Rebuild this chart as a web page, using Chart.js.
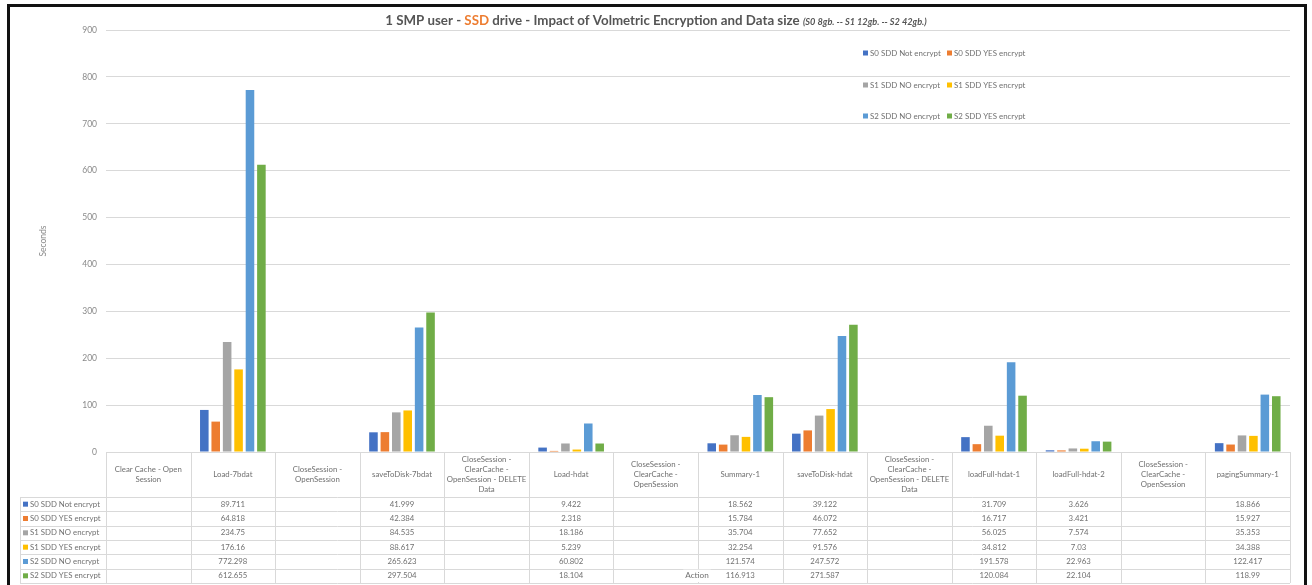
<!DOCTYPE html>
<html>
<head>
<meta charset="utf-8">
<script src="https://cdn.jsdelivr.net/npm/chart.js@4/dist/chart.umd.min.js"></script>
<style>
  html, body { margin: 0; padding: 0; background: #fff; }
  #wrap { width: 1312px; height: 585px; position: relative; }
</style>
</head>
<body>
<div id="wrap"><canvas id="c" width="1312" height="585"></canvas></div>
<script>
// Benchmark actions (multi-line labels as shown in the table header)
const categories = [
  ['Clear Cache - Open', 'Session'],
  ['Load-7bdat'],
  ['CloseSession -', 'OpenSession'],
  ['saveToDisk-7bdat'],
  ['CloseSession -', 'ClearCache -', 'OpenSession - DELETE', 'Data'],
  ['Load-hdat'],
  ['CloseSession -', 'ClearCache -', 'OpenSession'],
  ['Summary-1'],
  ['saveToDisk-hdat'],
  ['CloseSession -', 'ClearCache -', 'OpenSession - DELETE', 'Data'],
  ['loadFull-hdat-1'],
  ['loadFull-hdat-2'],
  ['CloseSession -', 'ClearCache -', 'OpenSession'],
  ['pagingSummary-1']
];

const seriesNames = [
  'S0 SDD Not encrypt', 'S0 SDD YES encrypt',
  'S1 SDD NO encrypt', 'S1 SDD YES encrypt',
  'S2 SDD NO encrypt', 'S2 SDD YES encrypt'
];

// Seconds per action
const s0NoEncrypt  = [null, 89.711, null, 41.999, null, 9.422, null, 18.562, 39.122, null, 31.709, 3.626, null, 18.866];
const s0YesEncrypt = [null, 64.818, null, 42.384, null, 2.318, null, 15.784, 46.072, null, 16.717, 3.421, null, 15.927];
const s1NoEncrypt  = [null, 234.75, null, 84.535, null, 18.186, null, 35.704, 77.652, null, 56.025, 7.574, null, 35.353];
const s1YesEncrypt = [null, 176.16, null, 88.617, null, 5.239, null, 32.254, 91.576, null, 34.812, 7.03, null, 34.388];
const s2NoEncrypt  = [null, 772.298, null, 265.623, null, 60.802, null, 121.574, 247.572, null, 191.578, 22.963, null, 122.417];
const s2YesEncrypt = [null, 612.655, null, 297.504, null, 18.104, null, 116.913, 271.587, null, 120.084, 22.104, null, 118.99];

const yTicks = [0, 100, 200, 300, 400, 500, 600, 700, 800, 900];

const seriesData = [s0NoEncrypt, s0YesEncrypt, s1NoEncrypt, s1YesEncrypt, s2NoEncrypt, s2YesEncrypt];
const seriesColors = ['#4472C4', '#ED7D31', '#A5A5A5', '#FFC000', '#5B9BD5', '#70AD47'];

const FONT = 'Lato, "Open Sans", sans-serif';
const TEXT = '#707070';
const LINE = '#d9d9d9';

// White page, outer black frame, title, legend and data table
const decor = {
  id: 'decor',
  beforeDraw(chart) {
    const ctx = chart.ctx;
    ctx.save();
    ctx.fillStyle = '#fff';
    ctx.fillRect(0, 0, chart.width, chart.height);
    ctx.restore();
  },
  afterDraw(chart) {
    const ctx = chart.ctx;
    const x = chart.scales.x;
    const area = chart.chartArea;
    const n = categories.length;
    const colW = (area.right - area.left) / n;
    const tableTop = area.bottom;
    const headerBottom = tableTop + 45;
    const rowH = 14.33;
    const labelLeft = 20;
    const tableBottom = headerBottom + rowH * seriesNames.length;

    ctx.save();
    // table grid
    ctx.strokeStyle = LINE;
    ctx.lineWidth = 1;
    ctx.beginPath();
    ctx.moveTo(area.left, tableTop + 0.5); ctx.lineTo(area.right, tableTop + 0.5);
    for (let r = 0; r <= seriesNames.length; r++) {
      const yy = Math.round(headerBottom + r * rowH) + 0.5;
      ctx.moveTo(labelLeft, yy); ctx.lineTo(area.right, yy);
    }
    for (let i = 0; i <= n; i++) {
      const xx = Math.round(area.left + i * colW) + 0.5;
      ctx.moveTo(xx, tableTop); ctx.lineTo(xx, tableBottom);
    }
    ctx.moveTo(labelLeft + 0.5, headerBottom); ctx.lineTo(labelLeft + 0.5, tableBottom);
    ctx.stroke();

    // header labels
    ctx.fillStyle = TEXT;
    ctx.font = '7.8px ' + FONT;
    ctx.textAlign = 'center';
    ctx.textBaseline = 'middle';
    const lh = 10.3;
    categories.forEach((lines, i) => {
      const cx = x.getPixelForValue(i);
      const cy = (tableTop + headerBottom) / 2;
      const y0 = cy - (lines.length - 1) * lh / 2;
      lines.forEach((t, k) => ctx.fillText(t, cx, y0 + k * lh));
    });

    // data rows
    seriesNames.forEach((name, r) => {
      const cy = headerBottom + (r + 0.5) * rowH;
      ctx.fillStyle = seriesColors[r];
      ctx.fillRect(23, cy - 2.5, 5, 5);
      ctx.fillStyle = TEXT;
      ctx.textAlign = 'left';
      ctx.fillText(name, 30, cy);
      ctx.textAlign = 'center';
      seriesData[r].forEach((v, i) => {
        if (v !== null) ctx.fillText(String(v), x.getPixelForValue(i), cy);
      });
    });

    // axis title for the category axis
    ctx.font = '8.2px ' + FONT;
    const aw = ctx.measureText('Action').width;
    ctx.fillStyle = '#fff';
    ctx.fillRect(697 - aw / 2 - 2, headerBottom + 5 * rowH + 1, aw + 4, rowH - 2);
    ctx.fillStyle = TEXT;
    ctx.fillText('Action', 697, headerBottom + 5.5 * rowH);

    // legend (two columns, three rows)
    ctx.font = '7.9px ' + FONT;
    ctx.textAlign = 'left';
    const legRows = [53, 85, 116];
    const legCols = [863, 947];
    chart.data.datasets.forEach((ds, i) => {
      const lx = legCols[i % 2];
      const ly = legRows[Math.floor(i / 2)];
      ctx.fillStyle = ds.backgroundColor;
      ctx.fillRect(lx, ly - 2.5, 5, 5);
      ctx.fillStyle = TEXT;
      ctx.fillText(ds.label, lx + 7, ly);
    });

    // title with highlighted word and italic note
    const parts = [
      { t: '1 SMP user - ', f: 'bold 13.3px ' + FONT, c: '#555555' },
      { t: 'SSD', f: 'bold 13.3px ' + FONT, c: '#ED7D31' },
      { t: ' drive - Impact of Volmetric Encryption and Data size ', f: 'bold 13.3px ' + FONT, c: '#555555' },
      { t: '(S0 8gb. -- S1 12gb. -- S2 42gb.)', f: 'italic bold 9.2px ' + FONT, c: '#555555' }
    ];
    let total = 0;
    parts.forEach(p => { ctx.font = p.f; p.w = ctx.measureText(p.t).width; total += p.w; });
    let tx = 656 - total / 2;
    ctx.textBaseline = 'alphabetic';
    parts.forEach(p => {
      ctx.font = p.f; ctx.fillStyle = p.c;
      ctx.fillText(p.t, tx, 25);
      tx += p.w;
    });

    // outer frame
    ctx.strokeStyle = '#111';
    ctx.lineWidth = 3;
    ctx.strokeRect(8.5, 5.5, 1297, 600);
    ctx.restore();
  }
};

new Chart(document.getElementById('c'), {
  type: 'bar',
  data: {
    labels: categories,
    datasets: seriesNames.map((name, i) => ({
      label: name,
      data: seriesData[i],
      backgroundColor: seriesColors[i],
      borderWidth: 0,
      categoryPercentage: 0.81,
      barPercentage: 0.75
    }))
  },
  options: {
    responsive: false,
    animation: false,
    devicePixelRatio: 1,
    layout: { padding: { left: 8, right: 22, top: 30, bottom: 133 } },
    plugins: {
      legend: { display: false },
      title: { display: false },
      tooltip: { enabled: false }
    },
    scales: {
      x: { display: false },
      y: {
        min: 0,
        max: 900,
        afterFit(scale) { scale.width = 98; },
        afterBuildTicks(scale) { scale.ticks = yTicks.map(v => ({ value: v })); },
        grid: { color: LINE, drawTicks: false },
        border: { display: false },
        ticks: { color: '#8a8a8a', font: { family: FONT, size: 8.5 }, padding: 9 },
        title: {
          display: true,
          text: 'Seconds',
          color: '#8a8a8a',
          font: { family: FONT, size: 8.5 },
          padding: { top: 30, bottom: 0 }
        }
      }
    }
  },
  plugins: [decor]
});
</script>
</body>
</html>
